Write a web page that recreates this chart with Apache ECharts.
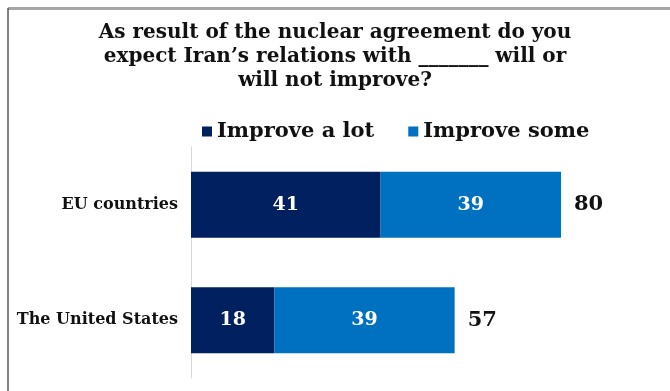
<!DOCTYPE html>
<html>
<head>
<meta charset="utf-8">
<style>
  html, body { margin: 0; padding: 0; background: #fff; }
  #chart { width: 670px; height: 391px; }
</style>
<script src="https://cdn.jsdelivr.net/npm/echarts@6/dist/echarts.min.js"></script>
</head>
<body>
<div id="chart"></div>
<script>
// Survey answers, percent of respondents
const categories = ['EU countries', 'The United States'];
const improveALot = [41, 18];
const improveSome = [39, 39];
const seriesNames = ['Improve a lot', 'Improve some'];

const totals = categories.map((_, i) => improveALot[i] + improveSome[i]);
const serif = '"DejaVu Serif", "Liberation Serif", serif';

const chart = echarts.init(document.getElementById('chart'));
chart.setOption({
  animation: false,
  backgroundColor: '#ffffff',
  title: {
    text: 'As result of the nuclear agreement do you\nexpect Iran\u2019s relations with _______ will or\nwill not improve?',
    left: 'center',
    top: 16,
    textStyle: {
      fontFamily: serif,
      fontWeight: 'bold',
      fontSize: 20,
      lineHeight: 24,
      color: '#111'
    }
  },
  graphic: [
    { type: 'line', shape: { x1: 8, y1: 8.5, x2: 670, y2: 8.5 }, style: { stroke: '#a6a6a6', lineWidth: 3 } },
    { type: 'line', shape: { x1: 8, y1: 8, x2: 8, y2: 391 }, style: { stroke: '#595959', lineWidth: 1.5 } }
  ],
  legend: {
    data: seriesNames,
    left: 197,
    top: 116,
    icon: 'rect',
    itemWidth: 10,
    itemHeight: 10,
    itemGap: 34,
    textStyle: {
      fontFamily: serif,
      fontWeight: 'bold',
      fontSize: 21,
      color: '#111'
    }
  },
  grid: { left: 191, right: 109, top: 147, bottom: 13, containLabel: false },
  xAxis: {
    type: 'value',
    min: 0,
    max: 80,
    show: false
  },
  yAxis: {
    type: 'category',
    data: categories,
    inverse: true,
    axisLine: { show: true, lineStyle: { color: '#d9d9d9', width: 1 } },
    axisTick: { show: false },
    axisLabel: {
      margin: 13,
      fontFamily: serif,
      fontWeight: 'bold',
      fontSize: 16,
      color: '#111'
    }
  },
  series: [
    {
      name: seriesNames[0],
      type: 'bar',
      stack: 'total',
      data: improveALot,
      barWidth: '57%',
      itemStyle: { color: '#00205f' },
      label: {
        show: true,
        position: 'inside',
        fontFamily: serif,
        fontWeight: 'bold',
        fontSize: 19,
        color: '#ffffff'
      }
    },
    {
      name: seriesNames[1],
      type: 'bar',
      stack: 'total',
      data: improveSome,
      barWidth: '57%',
      itemStyle: { color: '#0070c0' },
      label: {
        show: true,
        position: 'inside',
        fontFamily: serif,
        fontWeight: 'bold',
        fontSize: 19,
        color: '#ffffff'
      }
    },
    {
      // invisible carrier for the total at the end of each bar
      name: 'total',
      type: 'bar',
      stack: 'total',
      data: totals.map(() => 0),
      barWidth: '57%',
      itemStyle: { color: 'transparent' },
      label: {
        show: true,
        position: 'right',
        distance: 13,
        formatter: p => String(totals[p.dataIndex]),
        fontFamily: serif,
        fontWeight: 'bold',
        fontSize: 21,
        color: '#111'
      },
      tooltip: { show: false }
    }
  ]
});
</script>
</body>
</html>
